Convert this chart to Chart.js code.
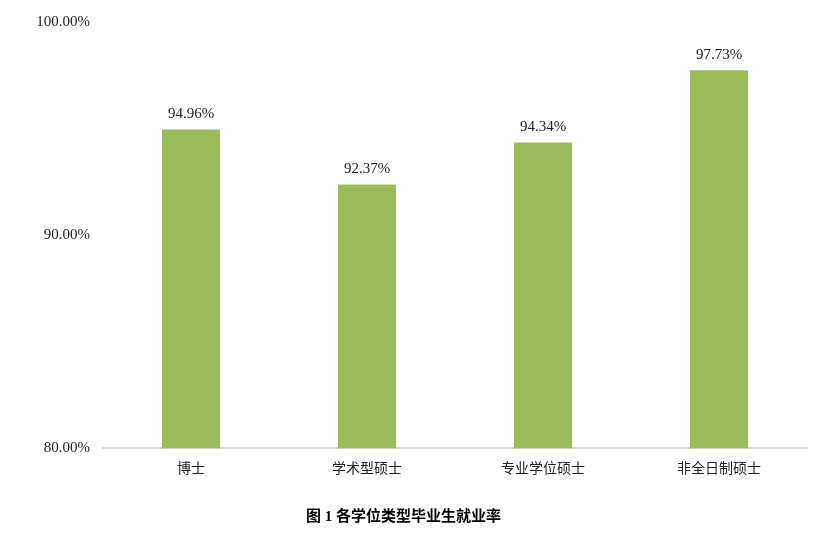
<!DOCTYPE html>
<html><head><meta charset="utf-8">
<script src="https://cdn.jsdelivr.net/npm/chart.js@4"></script>
<style>html,body{margin:0;padding:0;background:#fff}#wrap{width:820px;height:540px}</style>
</head><body><div id="wrap"><canvas id="c" width="820" height="540"></canvas></div>
<script>
const categories = ['博士', '学术型硕士', '专业学位硕士', '非全日制硕士'];
const rates = [94.96, 92.37, 94.34, 97.73];
const yTicks = [80, 90, 100];
const chartTitle = '图 1 各学位类型毕业生就业率';

const FONT = '"Liberation Serif", "Noto Sans CJK SC", serif';

const labelPlugin = {
  id: 'barLabels',
  afterDatasetsDraw(chart) {
    const ctx = chart.ctx;
    const meta = chart.getDatasetMeta(0);
    ctx.save();
    ctx.font = '15px ' + FONT;
    ctx.fillStyle = '#222';
    ctx.textAlign = 'center';
    ctx.textBaseline = 'bottom';
    meta.data.forEach((bar, i) => {
      ctx.fillText(rates[i].toFixed(2) + '%', bar.x, bar.y - 8);
    });
    ctx.restore();
  }
};

new Chart(document.getElementById('c'), {
  type: 'bar',
  data: {
    labels: categories,
    datasets: [{
      data: rates,
      backgroundColor: '#9BBB59',
      categoryPercentage: 1,
      barPercentage: 0.33
    }]
  },
  options: {
    responsive: false,
    animation: false,
    devicePixelRatio: 1,
    layout: { padding: { left: 0, right: 13, top: 12, bottom: 8 } },
    plugins: {
      legend: { display: false },
      tooltip: { enabled: false },
      title: {
        display: true,
        text: chartTitle,
        position: 'bottom',
        font: { family: FONT, size: 15, weight: 'bold' },
        color: '#000',
        padding: { top: 17, bottom: 6 }
      }
    },
    scales: {
      y: {
        min: 80, max: 100,
        afterBuildTicks(scale) { scale.ticks = yTicks.map(v => ({ value: v })); },
        afterFit(scale) { scale.width = 103; },
        grid: { display: false, drawTicks: false },
        border: { display: false },
        ticks: {
          padding: 13,
          color: '#222',
          font: { family: FONT, size: 15 },
          callback: v => v.toFixed(2) + '%'
        }
      },
      x: {
        grid: { display: false, drawTicks: false },
        border: { display: true, color: '#d9d9d9', width: 2 },
        ticks: {
          padding: 13,
          color: '#222',
          font: { family: FONT, size: 14 }
        }
      }
    }
  },
  plugins: [labelPlugin]
});
</script>
</body></html>
